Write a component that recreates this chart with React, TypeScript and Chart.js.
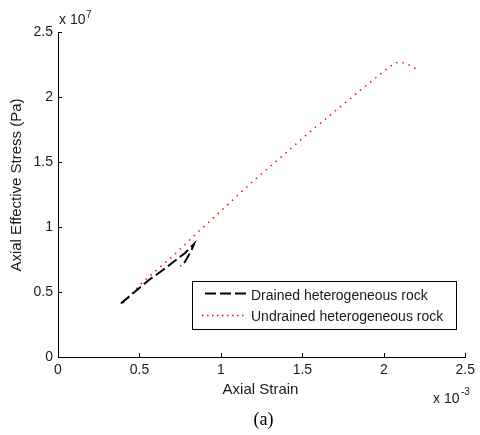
import React, { useEffect, useRef } from "react";
import { Chart, registerables } from "chart.js";

Chart.register(...registerables);

// Axial strain (absolute) and axial effective stress (Pa)
const drainedStrain = [0.000386, 0.000470, 0.000558, 0.000640, 0.000710, 0.000780, 0.000835, 0.000820, 0.000780, 0.000752];
const drainedStress = [4.12e6, 5.0e6, 5.92e6, 6.65e6, 7.33e6, 8.0e6, 8.7e6, 8.23e6, 7.33e6, 7.0e6];

const undrainedStrain = [0.000400, 0.000518, 0.000700, 0.000862, 0.001200, 0.001560, 0.001833, 0.002029, 0.002070, 0.002093, 0.002130, 0.002166, 0.002200];
const undrainedStress = [4.15e6, 5.75e6, 7.7e6, 9.64e6, 1.355e7, 1.746e7, 2.028e7, 2.228e7, 2.26e7, 2.27e7, 2.26e7, 2.24e7, 2.215e7];

const xTicks = [0, 0.0005, 0.001, 0.0015, 0.002, 0.0025];
const yTicks = [0, 5e6, 1e7, 1.5e7, 2e7, 2.5e7];
const seriesLabels = ["Drained heterogeneous rock", "Undrained heterogeneous rock"];

const FONT = '"Liberation Sans", Arial, sans-serif';
const INK = "#1a1a1a";

const fmt = (v: number) => String(parseFloat(v.toFixed(2)));

const decorPlugin = {
  id: "decor",
  afterDraw(chart: any) {
    const ctx = chart.ctx as CanvasRenderingContext2D;
    const { left, right, top, bottom } = chart.chartArea;
    const xs = chart.scales.x;
    const ys = chart.scales.y;
    ctx.save();
    // inward tick marks
    ctx.strokeStyle = "#000";
    ctx.lineWidth = 1;
    ctx.beginPath();
    xTicks.forEach((v) => {
      const px = Math.round(xs.getPixelForValue(v)) + 0.5;
      ctx.moveTo(px, bottom);
      ctx.lineTo(px, bottom - 4);
    });
    yTicks.forEach((v) => {
      const py = Math.round(ys.getPixelForValue(v)) + 0.5;
      ctx.moveTo(left, py);
      ctx.lineTo(left + 4, py);
    });
    ctx.stroke();

    ctx.fillStyle = INK;
    ctx.textBaseline = "alphabetic";
    // exponent labels
    ctx.textAlign = "left";
    ctx.font = `14px ${FONT}`;
    ctx.fillText("x 10", 59, 24);
    ctx.font = `10px ${FONT}`;
    ctx.fillText("7", 86, 18);
    ctx.font = `14px ${FONT}`;
    ctx.fillText("x 10", 433, 403);
    ctx.font = `10px ${FONT}`;
    ctx.fillText("-3", 461, 395);

    // axis titles
    ctx.font = `15px ${FONT}`;
    ctx.textAlign = "center";
    ctx.fillText("Axial Strain", 260.5, 394);
    ctx.save();
    ctx.translate(17, 185);
    ctx.rotate(-Math.PI / 2);
    ctx.textBaseline = "middle";
    ctx.fillText("Axial Effective Stress (Pa)", 0, 0);
    ctx.restore();

    // caption
    ctx.font = `18px "Liberation Serif", "Times New Roman", serif`;
    ctx.fillStyle = "#000";
    ctx.textAlign = "center";
    ctx.fillText("(a)", 263.5, 425);

    // legend box
    const bx = 192.5, by = 281.5, bw = 264, bh = 48;
    ctx.fillStyle = "#fff";
    ctx.fillRect(bx, by, bw, bh);
    ctx.strokeStyle = "#000";
    ctx.lineWidth = 1;
    ctx.strokeRect(bx, by, bw, bh);

    const ds = chart.data.datasets;
    // row 1
    ctx.beginPath();
    ctx.strokeStyle = ds[0].borderColor;
    ctx.lineWidth = 2;
    ctx.setLineDash([11, 4]);
    ctx.moveTo(205, 293.5);
    ctx.lineTo(247, 293.5);
    ctx.stroke();
    // row 2
    ctx.beginPath();
    ctx.strokeStyle = ds[1].borderColor;
    ctx.lineWidth = 1.5;
    ctx.setLineDash([1.5, 3.5]);
    ctx.moveTo(202, 315.5);
    ctx.lineTo(247, 315.5);
    ctx.stroke();
    ctx.setLineDash([]);

    ctx.fillStyle = INK;
    ctx.font = `14px ${FONT}`;
    ctx.textAlign = "left";
    ctx.fillText(ds[0].label, 251, 299.5);
    ctx.fillText(ds[1].label, 251, 321);
    ctx.restore();
  },
};

export default function App() {
  const ref = useRef<HTMLCanvasElement | null>(null);
  useEffect(() => {
    if (!ref.current) return;
    const chart = new Chart(ref.current, {
      type: "line",
      data: {
        datasets: [
          {
            label: seriesLabels[0],
            data: drainedStrain.map((x, i) => ({ x, y: drainedStress[i] })),
            borderColor: "#000000",
            borderWidth: 2,
            borderDash: [11, 4],
            pointRadius: 0,
            tension: 0,
            fill: false,
          },
          {
            label: seriesLabels[1],
            data: undrainedStrain.map((x, i) => ({ x, y: undrainedStress[i] })),
            borderColor: "#ff0000",
            borderWidth: 1.5,
            borderDash: [1.5, 5],
            pointRadius: 0,
            tension: 0,
            fill: false,
          },
        ],
      },
      options: {
        responsive: false,
        animation: false,
        devicePixelRatio: 1,
        layout: { padding: { left: 0, top: 32, right: 10, bottom: 0 } },
        plugins: { legend: { display: false }, tooltip: { enabled: false }, title: { display: false } },
        scales: {
          x: {
            type: "linear",
            min: 0,
            max: 0.0025,
            afterBuildTicks: (s: any) => {
              s.ticks = xTicks.map((v) => ({ value: v }));
            },
            afterFit: (s: any) => {
              s.height = 78;
            },
            grid: { display: false, drawTicks: false },
            border: { display: true, color: "#000", width: 1 },
            ticks: {
              padding: 5,
              color: INK,
              font: { family: FONT, size: 14 },
              maxRotation: 0,
              callback: (v: any) => fmt(Number(v) * 1000),
            },
          },
          y: {
            type: "linear",
            min: 0,
            max: 2.5e7,
            afterBuildTicks: (s: any) => {
              s.ticks = yTicks.map((v) => ({ value: v }));
            },
            afterFit: (s: any) => {
              s.width = 58;
            },
            grid: { display: false, drawTicks: false },
            border: { display: true, color: "#000", width: 1 },
            ticks: {
              padding: 5,
              color: INK,
              font: { family: FONT, size: 14 },
              callback: (v: any) => fmt(Number(v) / 1e7),
            },
          },
        },
      },
      plugins: [decorPlugin],
    });
    return () => chart.destroy();
  }, []);
  return (
    <div style={{ position: "absolute", left: 0, top: 0, width: 480, height: 435, background: "#fff" }}>
      <canvas ref={ref} width={480} height={435} style={{ display: "block" }} />
    </div>
  );
}
